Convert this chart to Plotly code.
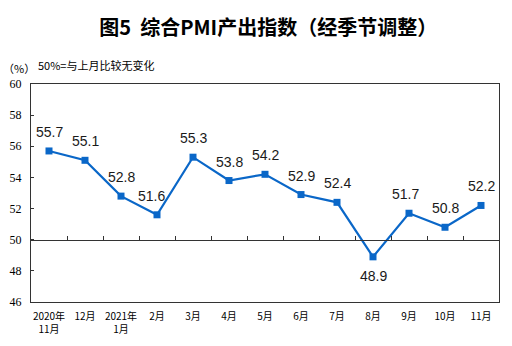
import plotly.graph_objects as go

# Composite PMI output index, seasonally adjusted (%)
months = ["2020年<br>11月", "12月", "2021年<br>1月", "2月", "3月", "4月", "5月",
          "6月", "7月", "8月", "9月", "10月", "11月"]
values = [55.7, 55.1, 52.8, 51.6, 55.3, 53.8, 54.2, 52.9, 52.4, 48.9, 51.7, 50.8, 52.2]
y_ticks = [46, 48, 50, 52, 54, 56, 58, 60]

LINE = "#0a67c8"
AXIS = "#333333"
CJK = "SimSun, 'Noto Sans CJK SC', sans-serif"

# small horizontal nudges (px) so labels clear the rising line segments
label_nudge = {"2月": -6, "9月": -4}

fig = go.Figure()

fig.add_trace(go.Scatter(
    x=months, y=values, mode="lines+markers",
    line=dict(color=LINE, width=2.2),
    marker=dict(symbol="square", size=7, color=LINE),
    hoverinfo="skip", showlegend=False,
))

# carrier trace for the 50% reference axis drawn across the plot
fig.add_trace(go.Scatter(
    x=months, y=[None] * len(months), xaxis="x2", mode="lines",
    hoverinfo="skip", showlegend=False,
))

# value labels: above each point, below the single point under 50
for m, v in zip(months, values):
    below = v < 50
    fig.add_annotation(
        x=m, y=v, text=f"{v:.1f}", showarrow=False,
        yanchor="middle", yshift=-19 if below else 19,
        xshift=label_nudge.get(m, 0),
        font=dict(family="Arial, 'Liberation Sans', sans-serif", size=14, color="#1a1a1a"),
    )

fig.update_layout(
    width=512, height=346,
    margin=dict(l=31, r=13, t=84, b=44),
    paper_bgcolor="white", plot_bgcolor="white",
    title=dict(
        text="<b>图5  综合PMI产出指数（经季节调整）</b>",
        x=0.524, xanchor="center", y=0.918, yanchor="middle",
        font=dict(family="'Noto Sans CJK SC', sans-serif", size=20, color="#000000"),
    ),
    xaxis=dict(
        type="category", range=[-0.5, len(months) - 0.5],
        showline=True, linecolor=AXIS, linewidth=1.2, mirror=True,
        ticks="", showgrid=False, zeroline=False, automargin=False,
        tickfont=dict(family=CJK, size=10, color="#000000"),
        ticklabelstandoff=5,
    ),
    xaxis2=dict(
        type="category", overlaying="x", anchor="free",
        position=(50 - 46) / (60 - 46),
        range=[-0.5, len(months) - 0.5],
        showline=True, linecolor=AXIS, linewidth=1.2,
        ticks="inside", ticklen=4, tickcolor=AXIS, tickwidth=1,
        tickson="boundaries", showticklabels=False, automargin=False,
        showgrid=False, zeroline=False,
    ),
    yaxis=dict(
        range=[46, 60], tickvals=y_ticks,
        showline=True, linecolor=AXIS, linewidth=1.2, mirror=True,
        ticks="inside", ticklen=3, tickcolor=AXIS,
        showgrid=False, zeroline=False, automargin=False,
        ticklabelstandoff=6,
        tickfont=dict(family="'Times New Roman', 'Liberation Serif', serif", size=12, color="#000000"),
    ),
)

fig.add_annotation(
    xref="paper", yref="paper", x=-0.064, y=1.075, xanchor="left", yanchor="middle",
    text="（%）", showarrow=False,
    font=dict(family=CJK, size=11, color="#000000"),
)
fig.add_annotation(
    xref="paper", yref="paper", x=0.011, y=1.085, xanchor="left", yanchor="middle",
    text="50%=与上月比较无变化", showarrow=False,
    font=dict(family=CJK, size=11, color="#000000"),
)

fig.write_html("out.html")
